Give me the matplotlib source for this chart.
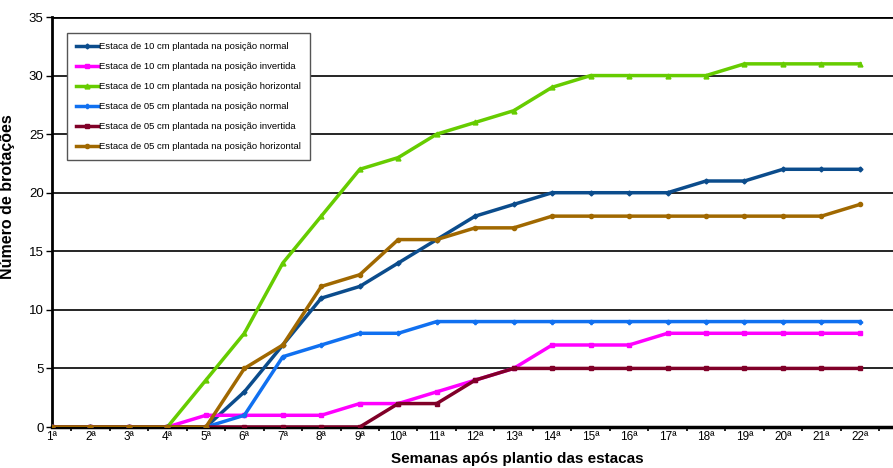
import matplotlib
matplotlib.use("Agg")
import matplotlib.pyplot as plt
import numpy as np

plt.rcParams['font.family'] = ['Liberation Sans', 'DejaVu Sans']

weeks = [f"{i}ª" for i in range(1, 23)]
labels = [
    "Estaca de 10 cm plantada na posição normal",
    "Estaca de 10 cm plantada na posição invertida",
    "Estaca de 10 cm plantada na posição horizontal",
    "Estaca de 05 cm plantada na posição normal",
    "Estaca de 05 cm plantada na posição invertida",
    "Estaca de 05 cm plantada na posição horizontal",
]
s10_normal = [0, 0, 0, 0, 0, 3, 7, 11, 12, 14, 16, 18, 19, 20, 20, 20, 20, 21, 21, 22, 22, 22]
s10_invert = [0, 0, 0, 0, 1, 1, 1, 1, 2, 2, 3, 4, 5, 7, 7, 7, 8, 8, 8, 8, 8, 8]
s10_horiz = [0, 0, 0, 0, 4, 8, 14, 18, 22, 23, 25, 26, 27, 29, 30, 30, 30, 30, 31, 31, 31, 31]
s05_normal = [0, 0, 0, 0, 0, 1, 6, 7, 8, 8, 9, 9, 9, 9, 9, 9, 9, 9, 9, 9, 9, 9]
s05_invert = [0, 0, 0, 0, 0, 0, 0, 0, 0, 2, 2, 4, 5, 5, 5, 5, 5, 5, 5, 5, 5, 5]
s05_horiz = [0, 0, 0, 0, 0, 5, 7, 12, 13, 16, 16, 17, 17, 18, 18, 18, 18, 18, 18, 18, 18, 19]

series = [s10_normal, s10_invert, s10_horiz, s05_normal, s05_invert, s05_horiz]
colors = ["#0B4C8C", "#FF00FF", "#66CC00", "#1070F0", "#800028", "#A06800"]
markers = ["D", "s", "^", "P", "s", "o"]
msizes = [2.5, 2.5, 3.5, 3, 2.5, 3]

fig = plt.figure(figsize=(8.93, 4.68), dpi=100)
ax = fig.add_axes([52/893, 41/468, 1 - 52/893, 410/468])

x = np.arange(1, 23)
for ys, c, m, ms, lab in zip(series, colors, markers, msizes, labels):
    ax.plot(x, ys, color=c, lw=2.5, marker=m, ms=ms, label=lab, zorder=3)

ax.set_xlim(1, 22.86)
ax.set_ylim(0, 35)
ax.set_yticks(range(0, 36, 5))
ax.set_xticks(x)
ax.set_xticklabels(weeks)
ax.set_xticks(np.arange(1.5, 23, 1), minor=True)
ax.tick_params(axis='x', which='major', length=0, labelsize=8.5, pad=3)
ax.tick_params(axis='x', which='minor', length=3, width=1.2, direction='out')
ax.tick_params(axis='y', length=4, width=1, labelsize=9.5, pad=2)

for yv in range(5, 36, 5):
    ax.axhline(yv, color='black', lw=1.2 if yv < 35 else 2, zorder=1)

ax.spines['right'].set_visible(False)
ax.spines['top'].set_visible(False)
ax.spines['left'].set_linewidth(2)
ax.spines['bottom'].set_linewidth(2.5)

ax.set_ylabel("Número de brotações", fontsize=11.5, fontweight='bold')
ax.yaxis.set_label_coords(-0.044, 0.563)
ax.set_xlabel("Semanas após plantio das estacas", fontsize=11, fontweight='bold')
ax.xaxis.set_label_coords(0.553, -0.062)

leg = ax.legend(loc='upper left', bbox_to_anchor=(0.018, 0.961), fontsize=6.8,
                frameon=True, fancybox=False, edgecolor='#555555', framealpha=1,
                handlelength=2.3, handletextpad=0.1, labelspacing=1.17,
                borderpad=0.95, borderaxespad=0)
leg.get_frame().set_linewidth(1)

fig.savefig("out.png", dpi=100)
